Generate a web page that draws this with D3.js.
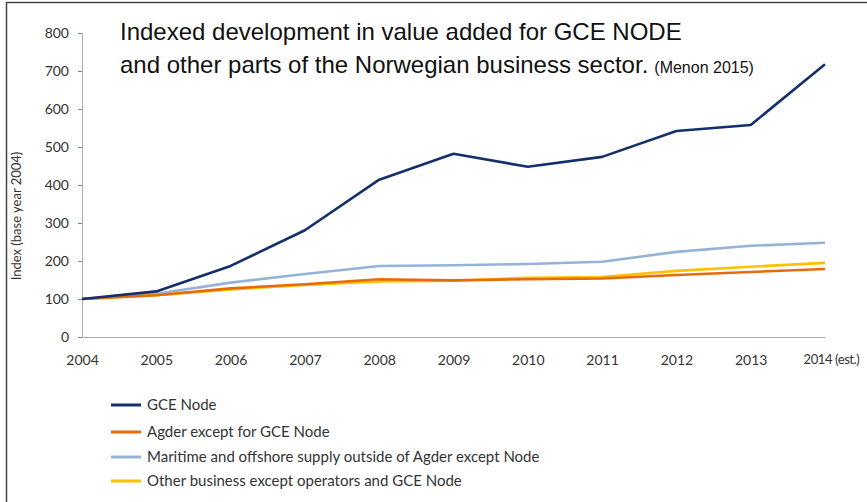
<!DOCTYPE html>
<html lang="en">
<head>
    <meta charset="UTF-8">
    <title>Indexed development in value added</title>
    <style>
        body { margin: 0; background: #fff; }
        svg { display: block; }
    </style>
    <script src="https://d3js.org/d3.v7.min.js"></script>
</head>
<body>
<div id="chart"></div>
<script>
    // Data (index, base year 2004 = 100)
    var years = [2004, 2005, 2006, 2007, 2008, 2009, 2010, 2011, 2012, 2013, 2014];
    var yearLabels = ["2004", "2005", "2006", "2007", "2008", "2009", "2010", "2011", "2012", "2013", "2014 (est.)"];
    var gceNode = [100, 120, 187, 281, 414, 482, 448, 474, 542, 558, 718];
    var agder = [100, 110, 128, 139, 152, 149, 152, 154, 163, 171, 179];
    var maritime = [100, 114, 143, 166, 187, 189, 192, 198, 224, 240, 248];
    var otherBusiness = [100, 110, 125, 137, 146, 148, 156, 158, 174, 185, 195];
    var yTicks = [0, 100, 200, 300, 400, 500, 600, 700, 800];

    var seriesNames = ["GCE Node", "Agder except for GCE Node",
        "Maritime and offshore supply outside of Agder except Node",
        "Other business except operators and GCE Node"];
    var seriesColors = ["#142f6b", "#e46c0a", "#95b3d7", "#ffc000"];
    var seriesValues = [gceNode, agder, maritime, otherBusiness];

    var width = 867, height = 502;
    var svg = d3.select("#chart").append("svg")
        .attr("width", width).attr("height", height);

    // frame around the picture
    svg.append("rect")
        .attr("x", 6.5).attr("y", 2.5)
        .attr("width", 900).attr("height", 600)
        .attr("fill", "none").attr("stroke", "#444").attr("stroke-width", 1.5);

    var x = d3.scaleLinear().domain([2004, 2014]).range([82, 825]);
    var y = d3.scaleLinear().domain([0, 800]).range([337, 33]);

    var labelFont = "Lato, 'Open Sans', sans-serif";

    // y axis
    var yAxis = svg.append("g")
        .attr("transform", "translate(82,0)")
        .call(d3.axisLeft(y).tickValues(yTicks).tickSize(4).tickPadding(9));
    yAxis.select(".domain").attr("stroke", "#aaa");
    yAxis.selectAll(".tick line").attr("stroke", "#888");
    yAxis.selectAll("text").attr("font-family", labelFont).attr("font-size", 14).attr("fill", "#333");

    // x axis
    var xAxis = svg.append("g")
        .attr("transform", "translate(0,337)")
        .call(d3.axisBottom(x).tickValues(years).tickSize(0).tickPadding(18)
            .tickFormat(function (d, i) { return yearLabels[i]; }));
    xAxis.select(".domain").attr("stroke", "#aaa");
    xAxis.selectAll("text").attr("font-family", labelFont).attr("font-size", 14).attr("fill", "#333");
    // last label starts a little left of its tick, a bit tighter so it fits
    xAxis.selectAll(".tick text").filter(function (d) { return d === 2014; })
        .attr("text-anchor", "start").attr("x", -22)
        .attr("font-size", 13).attr("letter-spacing", -0.4);

    // y axis title
    svg.append("text")
        .attr("transform", "translate(21,216) rotate(-90)")
        .attr("text-anchor", "middle")
        .attr("font-family", labelFont).attr("font-size", 13).attr("fill", "#333")
        .text("Index (base year 2004)");

    // lines (draw order so yellow/orange sit on top like the original)
    var line = d3.line()
        .x(function (d, i) { return x(years[i]); })
        .y(function (d) { return y(d); });

    [2, 3, 1, 0].forEach(function (k) {
        svg.append("path")
            .datum(seriesValues[k])
            .attr("d", line)
            .attr("fill", "none")
            .attr("stroke", seriesColors[k])
            .attr("stroke-width", 2.6)
            .attr("stroke-linejoin", "round");
    });

    // title
    var title = svg.append("text")
        .attr("font-family", "'Liberation Sans', Arial, sans-serif")
        .attr("fill", "#111");
    title.append("tspan").attr("x", 120).attr("y", 40).attr("font-size", 24)
        .text("Indexed development in value added for GCE NODE");
    title.append("tspan").attr("x", 120).attr("y", 73).attr("font-size", 24)
        .text("and other parts of the Norwegian business sector.");
    title.append("tspan").attr("dx", 6).attr("font-size", 16)
        .text("(Menon 2015)");

    // legend
    var legend = svg.selectAll(".legend")
        .data(seriesNames)
        .enter().append("g")
        .attr("transform", function (d, i) { return "translate(111," + [405, 432, 457, 481][i] + ")"; });
    legend.append("line")
        .attr("x1", 0).attr("x2", 30).attr("y1", 0).attr("y2", 0)
        .attr("stroke", function (d, i) { return seriesColors[i]; })
        .attr("stroke-width", 3);
    legend.append("text")
        .attr("x", 36).attr("y", 5)
        .attr("font-family", labelFont).attr("font-size", 15).attr("fill", "#333")
        .text(function (d) { return d; });
</script>
</body>
</html>
